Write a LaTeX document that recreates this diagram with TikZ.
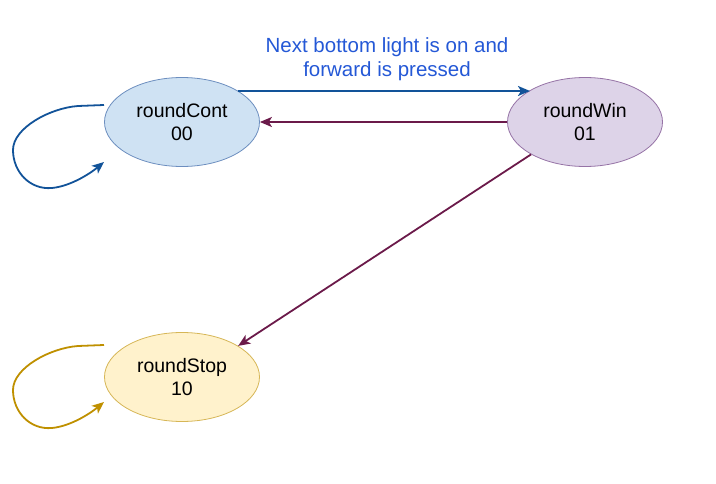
\documentclass[tikz,border=0pt]{standalone}
\usepackage{fontspec}
\setmainfont{Liberation Sans}
\usetikzlibrary{arrows.meta,shapes.geometric,calc}
\definecolor{contfill}{HTML}{CFE2F3}
\definecolor{contdraw}{HTML}{6C8EBF}
\definecolor{winfill}{HTML}{DDD3E8}
\definecolor{windraw}{HTML}{9673A6}
\definecolor{stopfill}{HTML}{FFF2CC}
\definecolor{stopdraw}{HTML}{D6B656}
\definecolor{bluearr}{HTML}{125399}
\definecolor{maroonarr}{HTML}{6B1A4A}
\definecolor{goldarr}{HTML}{BF9000}
\definecolor{labelblue}{HTML}{2458D6}
\tikzset{
  statenode/.style={ellipse, minimum width=155pt, minimum height=89pt, inner sep=0pt,
    line width=0.8pt, align=center, font=\fontsize{19.5}{23}\selectfont},
  arr/.style={line width=1.8pt, -{Stealth[length=12pt,width=10pt,inset=3pt]}},
}
\begin{document}
\begin{tikzpicture}[x=1pt,y=-1pt]
\useasboundingbox (0,0) rectangle (716,484);
\node[statenode, fill=contfill, draw=contdraw] (cont) at (182,122) {roundCont\\00};
\node[statenode, fill=winfill, draw=windraw] (win) at (585,122) {roundWin\\01};
\node[statenode, fill=stopfill, draw=stopdraw] (stop) at (182,377) {roundStop\\10};
\node[text=labelblue, align=center, font=\fontsize{20.5}{24}\selectfont] (lbl) at (387,59) {Next bottom light is on and\\forward is pressed};
\coordinate (topA) at ($(cont.center)+(56,-31)$);
\coordinate (topB) at ($(win.center)+(-55,-31)$);
\draw[arr, bluearr, line width=2pt] (topA) -- (topB);
\draw[arr, maroonarr] (win.west) -- (cont.east);
\draw[arr, maroonarr] (win.211) -- (stop.29.7);
\coordinate (cl0) at (104,105);
\coordinate (cl1) at (104,162);
\draw[arr, bluearr] (cl0) -- (78,106) .. controls (50,108) and (13,128) .. (13,150)
  .. controls (13,172) and (30,190) .. (52,188) .. controls (72,186) and (92,172) .. (cl1);
\coordinate (sl0) at (104,345);
\coordinate (sl1) at (104,402);
\draw[arr, goldarr] (sl0) -- (78,346) .. controls (50,348) and (13,368) .. (13,390)
  .. controls (13,412) and (30,430) .. (52,428) .. controls (72,426) and (92,412) .. (sl1);
\end{tikzpicture}
\end{document}
